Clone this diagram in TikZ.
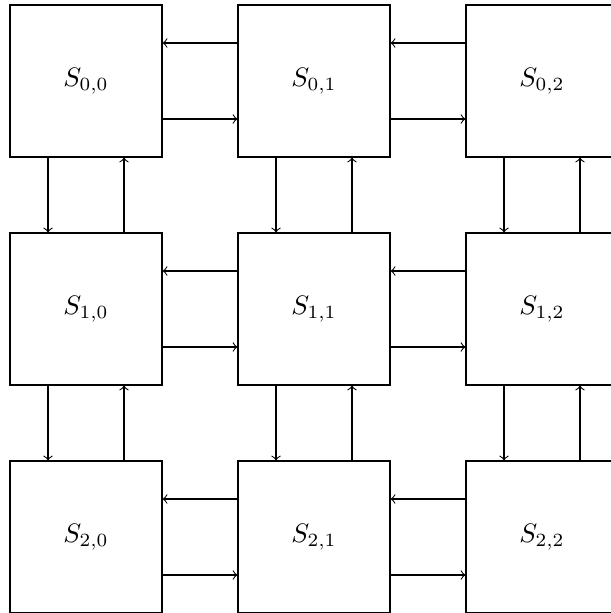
\documentclass[tikz,border=0pt]{standalone}
\usepackage{amsmath,amssymb}
\usepackage{tikz}
\usetikzlibrary{positioning}

\begin{document}
\begin{tikzpicture}[scale=1.0,cell/.style={draw,minimum size=2cm,inner sep=0pt}]
  \useasboundingbox (-0.132,0.066) rectangle (7.895,-8.0);
  \foreach \i in {0,1,2} { \foreach \j in {0,1,2} { \node[cell] (s\i\j) at (3*\j+1,-3*\i-1) {$S_{\i,\j}$}; } }
  % horizontal links
  \foreach \i in {0,1,2} { \foreach \j/\k in {0/1,1/2} {
    \draw[->] ([yshift=0.5cm]s\i\k.west) -- ([yshift=0.5cm]s\i\j.east);
    \draw[->] ([yshift=-0.5cm]s\i\j.east) -- ([yshift=-0.5cm]s\i\k.west); } }
  % vertical links
  \foreach \j in {0,1,2} { \foreach \i/\k in {0/1,1/2} {
    \draw[->] ([xshift=-0.5cm]s\i\j.south) -- ([xshift=-0.5cm]s\k\j.north);
    \draw[->] ([xshift=0.5cm]s\k\j.north) -- ([xshift=0.5cm]s\i\j.south); } }
\end{tikzpicture}
\end{document}
